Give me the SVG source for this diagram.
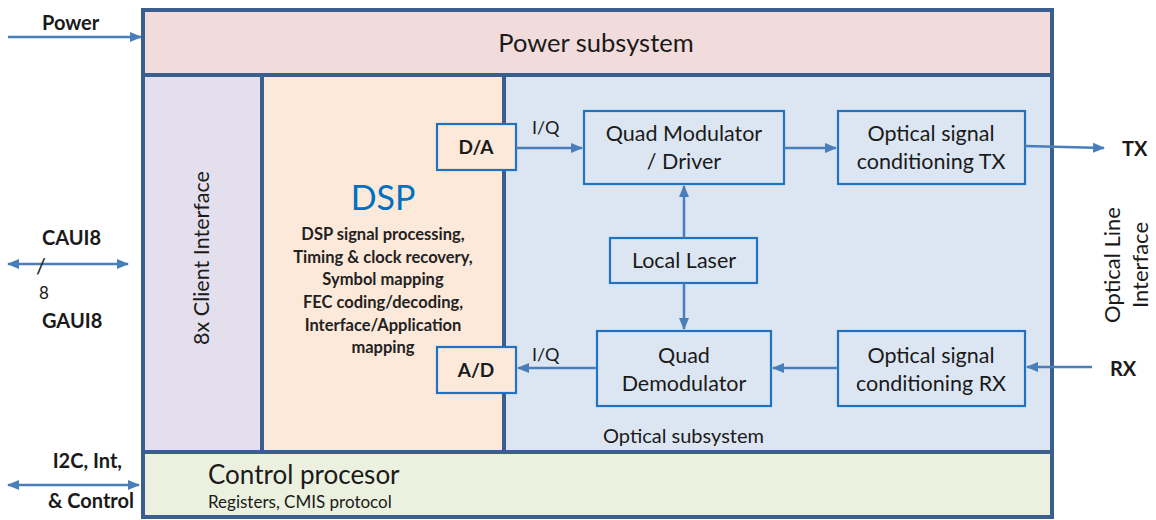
<svg xmlns="http://www.w3.org/2000/svg" width="1156" height="520" viewBox="0 0 1156 520">
<style>
text{font-family:Lato,"Noto Sans","Liberation Sans",sans-serif;fill:#1a1a1a}
.frame{stroke:#3A5F8E;stroke-width:4}
.box{stroke:#1F73C0;stroke-width:2.2}
.c{stroke:#4A7EBB;stroke-width:2.5;fill:none}
.lbl{font-size:21.5px;text-anchor:middle}
.b{font-weight:bold;font-size:20px}
.dsp{font-size:16.5px;font-weight:bold;text-anchor:middle;fill:#222}
</style>
<defs>
<marker id="ah" viewBox="0 0 12 10" refX="11" refY="5" markerWidth="12" markerHeight="10" markerUnits="userSpaceOnUse" orient="auto-start-reverse">
<path d="M0,0 L12,5 L0,10 z" fill="#4A7EBB"/>
</marker>
</defs>
<g id="power-subsystem">
<rect x="143" y="10" width="909" height="65" fill="#F2DCDB" class="frame"/>
<text x="596" y="52" style="font-size:25.5px;text-anchor:middle">Power subsystem</text>
</g>
<g id="client-interface">
<rect x="143" y="75" width="119" height="377" fill="#E4DFEC" class="frame"/>
<text transform="translate(209,258) rotate(-90)" style="font-size:21.5px;text-anchor:middle">8x Client Interface</text>
</g>
<g id="dsp">
<rect x="262" y="75" width="242" height="377" fill="#FDE9D9" class="frame"/>
<text x="383" y="210" style="font-size:34px;text-anchor:middle;fill:#0070C0">DSP</text>
<text x="383" y="240" class="dsp">DSP signal processing,</text>
<text x="383" y="263" class="dsp">Timing &amp; clock recovery,</text>
<text x="383" y="285" class="dsp">Symbol mapping</text>
<text x="383" y="308" class="dsp">FEC coding/decoding,</text>
<text x="383" y="331" class="dsp">Interface/Application</text>
<text x="383" y="353" class="dsp">mapping</text>
</g>
<g id="optical-subsystem">
<rect x="504" y="75" width="548" height="377" fill="#DCE6F2" class="frame"/>
<text x="603" y="443" style="font-size:20px">Optical subsystem</text>
</g>
<g id="control-processor">
<rect x="143" y="452" width="909" height="65" fill="#EBF1DE" class="frame"/>
<text x="208" y="484" style="font-size:26px">Control procesor</text>
<text x="208" y="508" style="font-size:17px">Registers, CMIS protocol</text>
</g>
<g id="da">
<rect x="437" y="124" width="79" height="46" fill="#FDE9D9" class="box"/>
<text x="476" y="154" style="font-size:19px;font-weight:bold;text-anchor:middle">D/A</text>
</g>
<g id="ad">
<rect x="437" y="347" width="79" height="46" fill="#FDE9D9" class="box"/>
<text x="476" y="377" style="font-size:19px;font-weight:bold;text-anchor:middle">A/D</text>
</g>
<g id="quad-modulator">
<rect x="584" y="111" width="200" height="73" fill="#DCE6F2" class="box"/>
<text x="684" y="141" class="lbl">Quad Modulator</text>
<text x="684" y="169" class="lbl">/ Driver</text>
</g>
<g id="optical-tx">
<rect x="838" y="111" width="187" height="73" fill="#DCE6F2" class="box"/>
<text x="931" y="141" class="lbl">Optical signal</text>
<text x="931" y="169" class="lbl">conditioning TX</text>
</g>
<g id="local-laser">
<rect x="610" y="238" width="147" height="45" fill="#DCE6F2" class="box"/>
<text x="684" y="268" class="lbl">Local Laser</text>
</g>
<g id="quad-demodulator">
<rect x="597" y="331" width="174" height="75" fill="#DCE6F2" class="box"/>
<text x="684" y="363" class="lbl">Quad</text>
<text x="684" y="391" class="lbl">Demodulator</text>
</g>
<g id="optical-rx">
<rect x="838" y="331" width="187" height="75" fill="#DCE6F2" class="box"/>
<text x="931" y="363" class="lbl">Optical signal</text>
<text x="931" y="391" class="lbl">conditioning RX</text>
</g>
<g id="external-labels">
<text x="42" y="30" class="b">Power</text>
<text x="42" y="245" class="b">CAUI8</text>
<text x="42" y="328" class="b">GAUI8</text>
<text x="122" y="468" class="b" style="text-anchor:end">I2C, Int,</text>
<text x="134" y="508" class="b" style="text-anchor:end">&amp; Control</text>
<text x="1122" y="156" class="b">TX</text>
<text x="1110" y="376" class="b">RX</text>
<text transform="translate(1126,265) rotate(-90)" style="font-size:22px;text-anchor:middle"><tspan x="0" y="-6">Optical Line</tspan><tspan x="0" y="22">Interface</tspan></text>
<text x="532" y="134" style="font-size:18px">I/Q</text>
<text x="532" y="361" style="font-size:18px">I/Q</text>
</g>
<g id="connectors">
<line x1="8" y1="37" x2="141" y2="37" class="c" marker-end="url(#ah)"/>
<line x1="8" y1="264" x2="128" y2="264" class="c" marker-start="url(#ah)" marker-end="url(#ah)"/>
<line x1="8" y1="485" x2="139" y2="485" class="c" marker-start="url(#ah)" marker-end="url(#ah)"/>
<line x1="516" y1="148" x2="582" y2="148" class="c" marker-end="url(#ah)"/>
<line x1="784" y1="148" x2="836" y2="148" class="c" marker-end="url(#ah)"/>
<line x1="1025" y1="146" x2="1104" y2="148" class="c" marker-end="url(#ah)"/>
<line x1="684" y1="238" x2="684" y2="186" class="c" marker-end="url(#ah)"/>
<line x1="684" y1="283" x2="684" y2="329" class="c" marker-end="url(#ah)"/>
<line x1="1092" y1="367" x2="1027" y2="367" class="c" marker-end="url(#ah)"/>
<line x1="838" y1="368" x2="773" y2="368" class="c" marker-end="url(#ah)"/>
<line x1="597" y1="368" x2="518" y2="368" class="c" marker-end="url(#ah)"/>
</g>
<g id="bus-width-mark">
<text x="36" y="274" style="font-size:22px;fill:#1a1a1a">/</text>
<text x="39" y="299" style="font-size:17px">8</text>
</g>
</svg>
